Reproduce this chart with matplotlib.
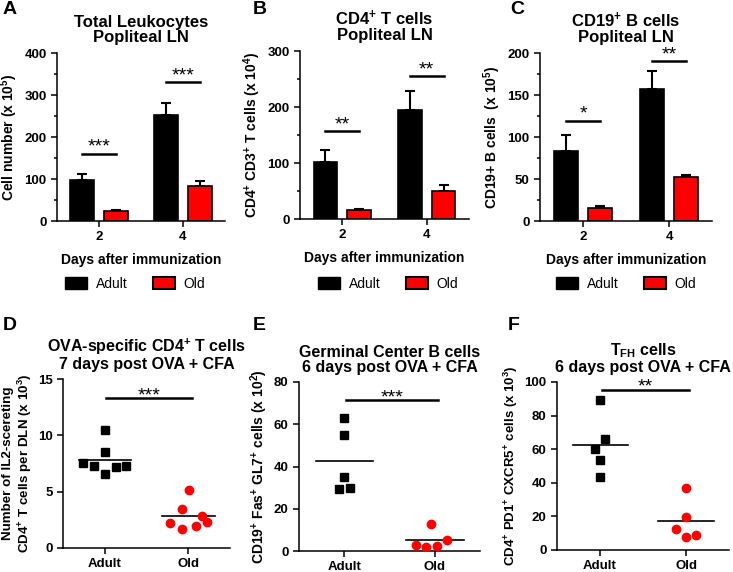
import numpy as np
import matplotlib
matplotlib.use("Agg")
import matplotlib.pyplot as plt
from matplotlib.patches import Patch

#--------------------------------------------------------
# Data
#--------------------------------------------------------
days = ["2", "4"]
groups = ["Adult", "Old"]

# A: total leukocytes (x 10^5)
leuk_adult = [97, 253]
leuk_adult_err = [16, 27]
leuk_old = [23, 84]
leuk_old_err = [3, 12]
leuk_sig_y = [160, 330]
leuk_sig = ["***", "***"]

# B: CD4+ T cells (x 10^4)
cd4_adult = [102, 195]
cd4_adult_err = [22, 34]
cd4_old = [16, 50]
cd4_old_err = [2, 11]
cd4_sig_y = [157, 255]
cd4_sig = ["**", "**"]

# C: CD19+ B cells (x 10^5)
cd19_adult = [83, 157]
cd19_adult_err = [19, 21]
cd19_old = [16, 52]
cd19_old_err = [2, 3]
cd19_sig_y = [119, 190]
cd19_sig = ["*", "**"]

# D: IL2-secreting OVA-specific CD4+ T cells (x 10^3)
il2_adult = [10.5, 8.55, 7.55, 7.3, 6.6, 7.15, 7.3]
il2_adult_dx = [0, 0, -0.26, -0.13, 0, 0.13, 0.26]
il2_old = [5.15, 3.45, 2.25, 1.7, 1.95, 2.8, 2.3]
il2_old_dx = [0.01, -0.07, -0.22, -0.07, 0.09, 0.16, 0.23]

# E: germinal center B cells (x 10^2)
gc_adult = [62.9, 55.0, 34.9, 29.3, 30.0]
gc_adult_dx = [0, 0, 0, -0.06, 0.06]
gc_old = [12.7, 3.0, 1.7, 2.4, 5.4]
gc_old_dx = [-0.04, -0.21, -0.1, 0.02, 0.13]

# F: TFH cells (x 10^3)
tfh_adult = [89.1, 66.2, 60.4, 53.7, 43.7]
tfh_adult_dx = [0, 0.06, -0.06, 0, 0]
tfh_old = [36.8, 19.7, 12.3, 7.8, 8.9]
tfh_old_dx = [0, 0, -0.12, 0, 0.12]

#--------------------------------------------------------
# Style
#--------------------------------------------------------
plt.rcParams["font.family"] = ["Liberation Sans", "DejaVu Sans"]
plt.rcParams["font.weight"] = "bold"
plt.rcParams["mathtext.fontset"] = "custom"
plt.rcParams["mathtext.rm"] = "Liberation Sans:bold"
plt.rcParams["mathtext.bf"] = "Liberation Sans:bold"
plt.rcParams["mathtext.default"] = "bf"
plt.rcParams["axes.linewidth"] = 1.1

W, H = 733, 572
fig = plt.figure(figsize=(W / 100, H / 100), dpi=100)

SUP = r"$^{\text{+}}$"


def axes_px(l, t, r, b):
    return fig.add_axes([l / W, 1 - b / H, (r - l) / W, (b - t) / H])


def style_axes(ax):
    for s in ["top", "right"]:
        ax.spines[s].set_visible(False)
    ax.tick_params(width=1.1, length=4, labelsize=9.5)
    ax.tick_params(which="minor", width=1.1, length=2.5)
    for lab in ax.get_xticklabels() + ax.get_yticklabels():
        lab.set_fontweight("bold")


def sig_mark(ax, x, y, s, dy):
    ax.annotate(s, (x, y), xytext=(0, dy), textcoords="offset points",
                ha="center", va="baseline", fontsize=14, fontweight="normal")


def bar_panel(ax, adult, adult_err, old, old_err, sig_y, sig, ymax, ystep,
              title, ylabel, legend_x):
    x = np.arange(len(days))
    w, off = 0.28, 0.2
    ax.bar(x - off, adult, w, color="black", edgecolor="black", lw=1.2, zorder=2)
    ax.bar(x + off, old, w, color="#ff0000", edgecolor="black", lw=1.2, zorder=2)
    ax.errorbar(x - off, adult, yerr=[np.zeros(len(x)), adult_err], fmt="none",
                ecolor="black", elinewidth=1.5, capsize=3.5, capthick=1.5, zorder=1)
    ax.errorbar(x + off, old, yerr=[np.zeros(len(x)), old_err], fmt="none",
                ecolor="black", elinewidth=1.5, capsize=3.5, capthick=1.5, zorder=1)
    for xi, y, s in zip(x, sig_y, sig):
        ax.plot([xi - off, xi + off], [y, y], color="black", lw=1.8)
        sig_mark(ax, xi, y, s, 1.5)
    ax.set_xlim(-0.5, 1.5)
    ax.set_ylim(0, ymax)
    ax.set_yticks(np.arange(0, ymax + 1, ystep))
    ax.set_yticks(np.arange(ystep / 2, ymax, ystep), minor=True)
    ax.set_xticks(x)
    ax.set_xticklabels(days)
    ax.set_title(title, fontsize=12, fontweight="bold", linespacing=1.0, pad=8)
    ax.set_ylabel(ylabel, fontsize=10, fontweight="bold", labelpad=3)
    ax.set_xlabel("Days after immunization", fontsize=10, fontweight="bold",
                  labelpad=7)
    style_axes(ax)
    handles = [Patch(facecolor="black", edgecolor="black"),
               Patch(facecolor="#ff0000", edgecolor="black", lw=1.5)]
    ax.legend(handles, groups, loc="center", ncol=2, frameon=False,
              bbox_to_anchor=(legend_x / W, 1 - 284 / H),
              bbox_transform=fig.transFigure, handlelength=1.6, handleheight=0.9,
              columnspacing=1.8, handletextpad=0.6,
              prop={"size": 10, "weight": "normal"})


def dot_panel(ax, adult, adult_dx, old, old_dx, sig_y, sig, ymax, ystep,
              title, ylabel, ylabel_size=10):
    ax.plot(np.array(adult_dx), adult, "s", color="black", ms=5.5, zorder=3)
    ax.plot(1 + np.array(old_dx), old, "o", color="#ff0000", ms=6, zorder=3)
    ax.plot([-0.31, 0.32], [np.mean(adult)] * 2, color="black", lw=1.2)
    ax.plot([1 - 0.32, 1 + 0.32], [np.mean(old)] * 2, color="black", lw=1.2)
    ax.plot([0.02, 1.04], [sig_y, sig_y], color="black", lw=1.8)
    sig_mark(ax, 0.53, sig_y, s=sig, dy=-1.5)
    ax.set_xlim(-0.5, 1.5)
    ax.set_ylim(0, ymax)
    ax.set_yticks(np.arange(0, ymax + 1, ystep))
    ax.set_xticks([0, 1])
    ax.set_xticklabels(groups)
    ax.set_title(title, fontsize=11.5, fontweight="bold", linespacing=1.0, pad=7)
    ax.set_ylabel(ylabel, fontsize=ylabel_size, fontweight="bold", labelpad=3)
    style_axes(ax)


#--------------------------------------------------------
# Panels
#--------------------------------------------------------
axA = axes_px(57, 53, 225, 221)
bar_panel(axA, leuk_adult, leuk_adult_err, leuk_old, leuk_old_err, leuk_sig_y,
          leuk_sig, 400, 100, "Total Leukocytes\nPopliteal LN",
          "Cell number (x 10$^5$)", 135)

axB = axes_px(300, 51, 469, 219)
bar_panel(axB, cd4_adult, cd4_adult_err, cd4_old, cd4_old_err, cd4_sig_y,
          cd4_sig, 300, 100, "CD4" + SUP + " T cells\nPopliteal LN",
          "CD4" + SUP + " CD3" + SUP + " T cells (x 10$^4$)", 388)

axC = axes_px(540, 53, 712, 221)
bar_panel(axC, cd19_adult, cd19_adult_err, cd19_old, cd19_old_err, cd19_sig_y,
          cd19_sig, 200, 50, "CD19" + SUP + " B cells\nPopliteal LN",
          "CD19+ B cells  (x 10$^5$)", 626)

axD = axes_px(63, 379, 230, 548)
dot_panel(axD, il2_adult, il2_adult_dx, il2_old, il2_old_dx, 13.3, "***", 15, 5,
          "OVA-specific CD4" + SUP + " T cells\n7 days post OVA + CFA",
          "Number of IL2-scereting\nCD4" + SUP + " T cells per DLN (x 10$^3$)",
          ylabel_size=9.6)
axD.yaxis.label.set_linespacing(1.1)
axD.yaxis.label.set_va("center")
axD.yaxis.set_label_coords(-0.27, 0.5)

axE = axes_px(299, 382, 480, 551)
dot_panel(axE, gc_adult, gc_adult_dx, gc_old, gc_old_dx, 71.5, "***", 80, 20,
          "Germinal Center B cells\n6 days post OVA + CFA",
          "CD19" + SUP + " Fas" + SUP + " GL7" + SUP + " cells (x 10$^2$)")

axF = axes_px(557, 382, 729, 550)
dot_panel(axF, tfh_adult, tfh_adult_dx, tfh_old, tfh_old_dx, 95.4, "**", 100, 20,
          "T$_{FH}$ cells\n6 days post OVA + CFA",
          "CD4" + SUP + " PD1" + SUP + " CXCR5" + SUP + " cells (x 10$^3$)",
          ylabel_size=9.5)

# panel letters
for letter, (px, py) in zip("ABCDEF", [(3, 10), (253, 10), (510, 10),
                                       (3, 325), (253, 325), (508, 325)]):
    fig.text(px / W, 1 - py / H, letter, fontsize=14, fontweight="bold",
             va="center", ha="left")

fig.savefig("out.png", dpi=100)
